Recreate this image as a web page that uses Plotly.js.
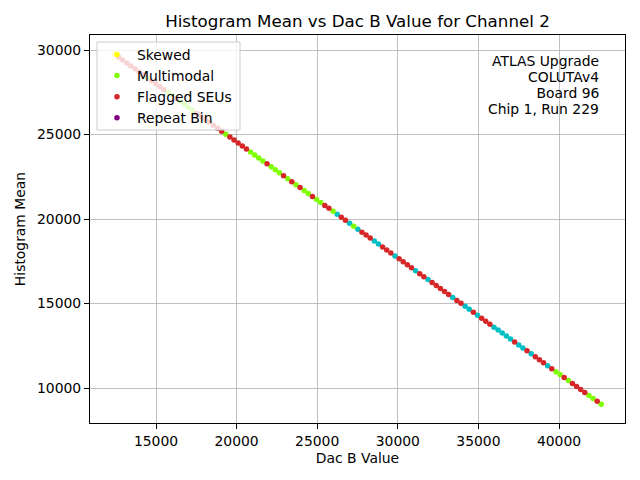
<!DOCTYPE html>
<html>
<head>
<meta charset="utf-8">
<script src="https://cdn.plot.ly/plotly-3.0.1.min.js"></script>
<style>
  html, body { margin: 0; padding: 0; background: #fff; }
  #histmean_plot { width: 640px; height: 480px; }
</style>
</head>
<body>
<div id="histmean_plot"></div>
<script>

// Dac B 値 (x)
const dacB = [
  12416, 12672, 12928, 13184, 13440, 13696, 13952, 14208, 14464, 14720,
  14976, 15232, 15488, 15744, 16000, 16256, 16512, 16768, 17024, 17280,
  17536, 17792, 18048, 18304, 18560, 18816, 19072, 19328, 19584, 19840,
  20096, 20352, 20608, 20864, 21120, 21376, 21632, 21888, 22144, 22400,
  22656, 22912, 23168, 23424, 23680, 23936, 24192, 24448, 24704, 24960,
  25216, 25472, 25728, 25984, 26240, 26496, 26752, 27008, 27264, 27520,
  27776, 28032, 28288, 28544, 28800, 29056, 29312, 29568, 29824, 30080,
  30336, 30592, 30848, 31104, 31360, 31616, 31872, 32128, 32384, 32640,
  32896, 33152, 33408, 33664, 33920, 34176, 34432, 34688, 34944, 35200,
  35456, 35712, 35968, 36224, 36480, 36736, 36992, 37248, 37504, 37760,
  38016, 38272, 38528, 38784, 39040, 39296, 39552, 39808, 40064, 40320,
  40576, 40832, 41088, 41344, 41600, 41856, 42112, 42368, 42624
];

// ヒストグラム平均 (y)
const histMean = [
  29763, 29587, 29412, 29236, 29060, 28885, 28709, 28533, 28358, 28182,
  28006, 27831, 27655, 27479, 27304, 27128, 26952, 26777, 26601, 26425,
  26250, 26074, 25898, 25723, 25547, 25371, 25196, 25020, 24845, 24669,
  24493, 24318, 24142, 23966, 23791, 23615, 23439, 23264, 23088, 22912,
  22737, 22561, 22385, 22210, 22034, 21858, 21683, 21507, 21331, 21156,
  20980, 20804, 20629, 20453, 20277, 20102, 19926, 19750, 19575, 19399,
  19223, 19048, 18872, 18696, 18521, 18345, 18169, 17994, 17818, 17642,
  17467, 17291, 17115, 16940, 16764, 16588, 16413, 16237, 16061, 15886,
  15710, 15535, 15359, 15183, 15008, 14832, 14656, 14481, 14305, 14129,
  13954, 13778, 13602, 13427, 13251, 13075, 12900, 12724, 12548, 12373,
  12197, 12021, 11846, 11670, 11494, 11319, 11143, 10967, 10792, 10616,
  10440, 10265, 10089,  9913,  9738,  9562,  9386,  9211,  9035
];

// 点ごとの分類: C=normal, Y=Skewed, G=Multimodal, R=Flagged SEUs
const pointFlag = [
  'Y','R','R','R','R','R','R','R','G','R',
  'R','R','R','G','G','R','G','G','G','G',
  'R','R','R','R','R','R','R','G','R','R',
  'R','R','R','G','G','G','G','R','G','G',
  'G','R','G','R','G','R','G','G','R','G',
  'G','R','R','G','C','R','R','C','G','C',
  'R','R','R','C','C','R','R','R','C','R',
  'R','R','R','C','R','R','C','R','R','R',
  'R','R','C','R','R','C','C','R','C','R',
  'R','R','C','C','C','C','C','R','C','C',
  'R','C','R','R','R','C','R','G','G','R',
  'G','R','R','R','R','G','G','R','G'
];

const xTicks = [15000, 20000, 25000, 30000, 35000, 40000];
const yTicks = [10000, 15000, 20000, 25000, 30000];

const infoLines = ['ATLAS Upgrade', 'COLUTAv4', ' Board 96', 'Chip 1, Run 229'];

function pick(code) {
  const xs = [], ys = [];
  for (let i = 0; i < dacB.length; i++) {
    if (pointFlag[i] === code) {
      xs.push(dacB[i]);
      ys.push(histMean[i]);
    }
  }
  return { x: xs, y: ys };
}

function makeTrace(code, name, color, rank, showlegend) {
  const p = pick(code);
  return {
    x: p.x,
    y: p.y,
    type: 'scatter',
    mode: 'markers',
    name: name,
    legendrank: rank,
    showlegend: showlegend,
    marker: { color: color, size: 5.5, line: { width: 0 } },
    hoverinfo: 'x+y'
  };
}

const FONT = 'DejaVu Sans, sans-serif';

var data = [
  makeTrace('C', 'Normal', 'rgb(0,191,196)', 900, false),
  makeTrace('G', 'Multimodal', '#7fff00', 2, true),
  makeTrace('Y', 'Skewed', '#ffff00', 1, true),
  makeTrace('R', 'Flagged SEUs', '#d62728', 3, true),
  {
    x: [null], y: [null],
    type: 'scatter', mode: 'markers',
    name: 'Repeat Bin', legendrank: 4,
    marker: { color: '#800080', size: 5.5 }
  }
];

// 右上の情報テキスト (1行ずつ置く、行間16px)
var annos = infoLines.map(function (t, k) {
  return {
    text: t,
    xref: 'paper', yref: 'paper',
    x: 0.955, y: (423 - 61 - 16 * k) / 388,
    xanchor: 'right', yanchor: 'middle',
    showarrow: false,
    font: { family: FONT, size: 13.9, color: '#000' }
  };
});

var layout = {
  width: 640,
  height: 480,
  margin: { l: 90, r: 15, t: 35, b: 57 },
  paper_bgcolor: '#ffffff',
  plot_bgcolor: '#ffffff',
  font: { family: FONT, size: 13.9, color: '#000000' },
  title: {
    text: 'Histogram Mean vs Dac B Value for Channel 2',
    font: { family: FONT, size: 16.7, color: '#000000' },
    x: 0.5, xref: 'paper',
    y: 1 - 21 / 480, yref: 'container', yanchor: 'middle'
  },
  xaxis: {
    range: [10906, 44094],
    tickmode: 'array',
    tickvals: xTicks,
    ticktext: xTicks.map(String),
    ticks: 'outside', ticklen: 5, tickcolor: '#000',
    showgrid: true, gridcolor: '#b0b0b0', gridwidth: 0.8,
    zeroline: false,
    showline: true, mirror: true, linecolor: '#000', linewidth: 1,
    tickfont: { family: FONT, size: 13.9 },
    title: { text: 'Dac B Value', font: { family: FONT, size: 13.9 }, standoff: 5 }
  },
  yaxis: {
    range: [7929, 30888],
    tickmode: 'array',
    tickvals: yTicks,
    ticktext: yTicks.map(String),
    ticks: 'outside', ticklen: 5, tickcolor: '#000',
    showgrid: true, gridcolor: '#b0b0b0', gridwidth: 0.8,
    zeroline: false,
    showline: true, mirror: true, linecolor: '#000', linewidth: 1,
    tickfont: { family: FONT, size: 13.9 },
    title: { text: 'Histogram Mean', font: { family: FONT, size: 13.9 }, standoff: 8 }
  },
  // 凡例の枠は shape で描く (半透明の白)
  shapes: [
    {
      type: 'rect', xref: 'paper', yref: 'paper', layer: 'above',
      x0: (97 - 90) / 535, x1: (240 - 90) / 535,
      y0: (423 - 130) / 388, y1: (423 - 42) / 388,
      fillcolor: 'rgba(255,255,255,0.8)',
      line: { color: '#cccccc', width: 1 }
    }
  ],
  legend: {
    x: 0.013, y: (423 - 39) / 388, xanchor: 'left', yanchor: 'top',
    bgcolor: 'rgba(0,0,0,0)',
    borderwidth: 0,
    font: { family: FONT, size: 13.9 },
    traceorder: 'normal'
  },
  annotations: annos,
  showlegend: true
};

var config = {
  staticPlot: true,
  displayModeBar: false
};

Plotly.newPlot('histmean_plot', data, layout, config);

</script>
</body>
</html>
